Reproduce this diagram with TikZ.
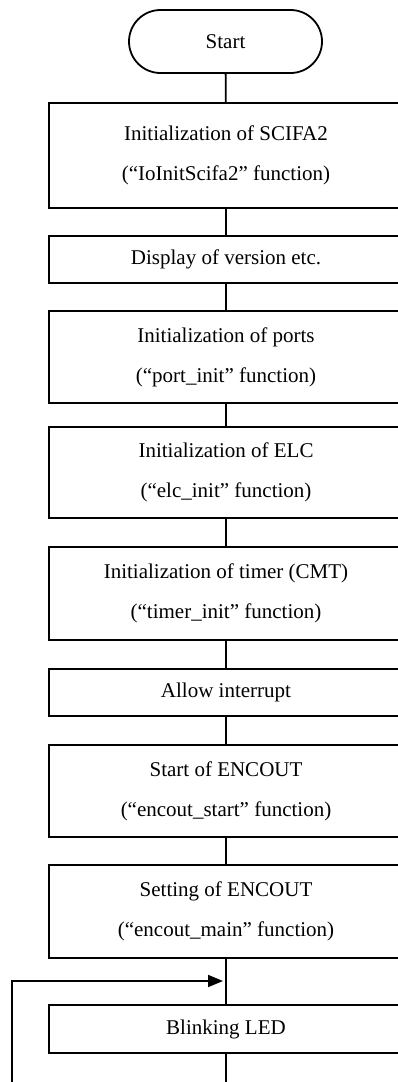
\documentclass[tikz,border=0pt]{standalone}
\usepackage{fontspec}
\setmainfont{Liberation Serif}
\usepackage{tikz}
\usetikzlibrary{arrows.meta}

\begin{document}
\begin{tikzpicture}[x=1pt, y=-1pt,
    procbox/.style={draw, line width=1.8pt, rectangle, minimum width=354pt, inner sep=0pt, align=center, font=\fontsize{21}{40}\selectfont},
    startbox/.style={draw, line width=1.8pt, rectangle, rounded corners=31.5pt, minimum width=193pt, minimum height=63pt, inner sep=0pt, font=\fontsize{21}{40}\selectfont},
    flow/.style={line width=1.8pt},
    loopflow/.style={line width=1.8pt, -{Triangle[length=15pt, width=12pt]}}]
  \clip (0,0) rectangle (398,1082);

  % Start
  \node[startbox] (start) at (225.5,41.5) {Start};

  % Initialization
  \node[procbox, minimum height=105pt] (scifa) at (226,155.5) {Initialization of SCIFA2\\(``IoInitScifa2'' function)};
  \node[procbox, minimum height=47pt] (version) at (226,259.5) {Display of version etc.};
  \node[procbox, minimum height=92pt] (ports) at (226,357) {Initialization of ports\\(``port\_init'' function)};
  \node[procbox, minimum height=91pt] (elc) at (226,472.5) {Initialization of ELC\\(``elc\_init'' function)};
  \node[procbox, minimum height=93pt] (timer) at (226,593.5) {Initialization of timer (CMT)\\(``timer\_init'' function)};
  \node[procbox, minimum height=47pt] (intr) at (226,692.5) {Allow interrupt};

  % ENCOUT
  \node[procbox, minimum height=92pt] (encstart) at (226,791) {Start of ENCOUT\\(``encout\_start'' function)};
  \node[procbox, minimum height=93pt] (encmain) at (226,911.5) {Setting of ENCOUT\\(``encout\_main'' function)};

  % Main loop
  \node[procbox, minimum height=48pt] (led) at (226,1029) {Blinking LED};

  \coordinate (join) at (223,981);
  \coordinate (loopbot) at (226,1110);
  \coordinate (loopside) at (12,1110);

  \draw[flow] (start) -- (scifa);
  \draw[flow] (scifa) -- (version);
  \draw[flow] (version) -- (ports);
  \draw[flow] (ports) -- (elc);
  \draw[flow] (elc) -- (timer);
  \draw[flow] (timer) -- (intr);
  \draw[flow] (intr) -- (encstart);
  \draw[flow] (encstart) -- (encmain);
  \draw[flow] (encmain) -- (led);
  \draw[loopflow] (led.south) -- (loopbot) -- (loopside) |- (join);
\end{tikzpicture}
\end{document}
